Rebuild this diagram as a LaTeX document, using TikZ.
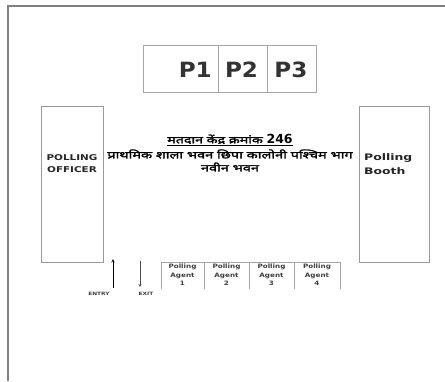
\documentclass[tikz,border=0pt]{standalone}
\usepackage{fontspec}
\setmainfont{DejaVu Sans}
\newfontfamily\hindi[Script=Devanagari,FakeStretch=1.45,FakeBold=2.5]{Noto Sans}
\newfontfamily\widea[FakeStretch=1.3]{DejaVu Sans}
\newfontfamily\wideb[FakeStretch=1.38]{DejaVu Sans}
\newfontfamily\widec[FakeStretch=1.2]{DejaVu Sans}
\newfontfamily\wided[FakeStretch=1.1]{DejaVu Sans}
\begin{document}
\begin{tikzpicture}[x=1pt,y=-1pt,
  frame/.style={draw=black!40,line width=0.8pt},
  thin/.style={draw=black!35,line width=0.5pt},
  pnum/.style={font=\wided\bfseries\fontsize{21}{23}\selectfont,inner sep=0pt,text=black!80},
  lab/.style={font=\widea\bfseries\fontsize{8}{12}\selectfont,align=center,inner sep=0pt,text=black!85},
  agent/.style={font=\widec\bfseries\fontsize{6}{8.5}\selectfont,align=center,inner sep=0pt,text=black!75},
  tiny/.style={font=\widea\bfseries\fontsize{4.5}{5}\selectfont,inner sep=0pt,text=black!75}]
\useasboundingbox (0,0) rectangle (445,381);
\fill[white] (0,0) rectangle (445,381);
% outer frame
\draw[draw=black!50,line width=1.3pt] (8,381) -- (8,6) -- (445,6);
% P boxes
\draw[thin] (143,45) rectangle (316,92);
\draw[thin] (218,45) -- (218,92);
\draw[thin] (267,45) -- (267,92);
\node[pnum,anchor=east] (p1) at (212,70) {P1};
\node[pnum] (p2) at (241.5,70) {P2};
\node[pnum] (p3) at (291,70) {P3};
% side boxes
\draw[frame] (41,106) rectangle (103,262);
\node[lab] (po) at (72,164) {POLLING\\OFFICER};
\draw[frame] (359,106) rectangle (429,262);
\node[lab,align=left,anchor=west,font=\wideb\bfseries\fontsize{9}{14}\selectfont] (pb) at (364,164) {Polling\\Booth};
% Hindi heading
\node[inner sep=0pt] (h1) at (230,140) {\underline{\hindi\fontsize{9.8}{12}\selectfont मतदान केंद्र क्रमांक {\rmfamily\bfseries\fontsize{12.5}{12}\selectfont 246}}};
\node[inner sep=0pt] (h2) at (230,154) {\hindi\fontsize{10}{11}\selectfont प्राथमिक शाला भवन छिपा कालोनी पश्चिम भाग};
\node[inner sep=0pt] (h3) at (230,167) {\hindi\fontsize{10}{11}\selectfont नवीन भवन};
% entry / exit
\coordinate (en1) at (113,288);
\coordinate (en2) at (113,259);
\coordinate (ex1) at (140,261);
\coordinate (ex2) at (140,287);
\draw[->,>=stealth,line width=0.6pt] (en1) -- (en2);
\draw[->,>=stealth,line width=0.4pt,black!70] (ex1) -- (ex2);
\node[tiny] (entry) at (99,294) {ENTRY};
\node[tiny] (exit) at (146,294) {EXIT};
% agents
\draw[thin] (161,289) -- (161,262) -- (340,262) -- (340,289);
\draw[thin] (204,262) -- (204,289);
\draw[thin] (249,262) -- (249,289);
\draw[thin] (294,262) -- (294,289);
\node[agent] (a1) at (182.5,275) {Polling\\Agent\\1};
\node[agent] (a2) at (226.5,275) {Polling\\Agent\\2};
\node[agent] (a3) at (271.5,275) {Polling\\Agent\\3};
\node[agent] (a4) at (317,275) {Polling\\Agent\\4};
\end{tikzpicture}
\end{document}
